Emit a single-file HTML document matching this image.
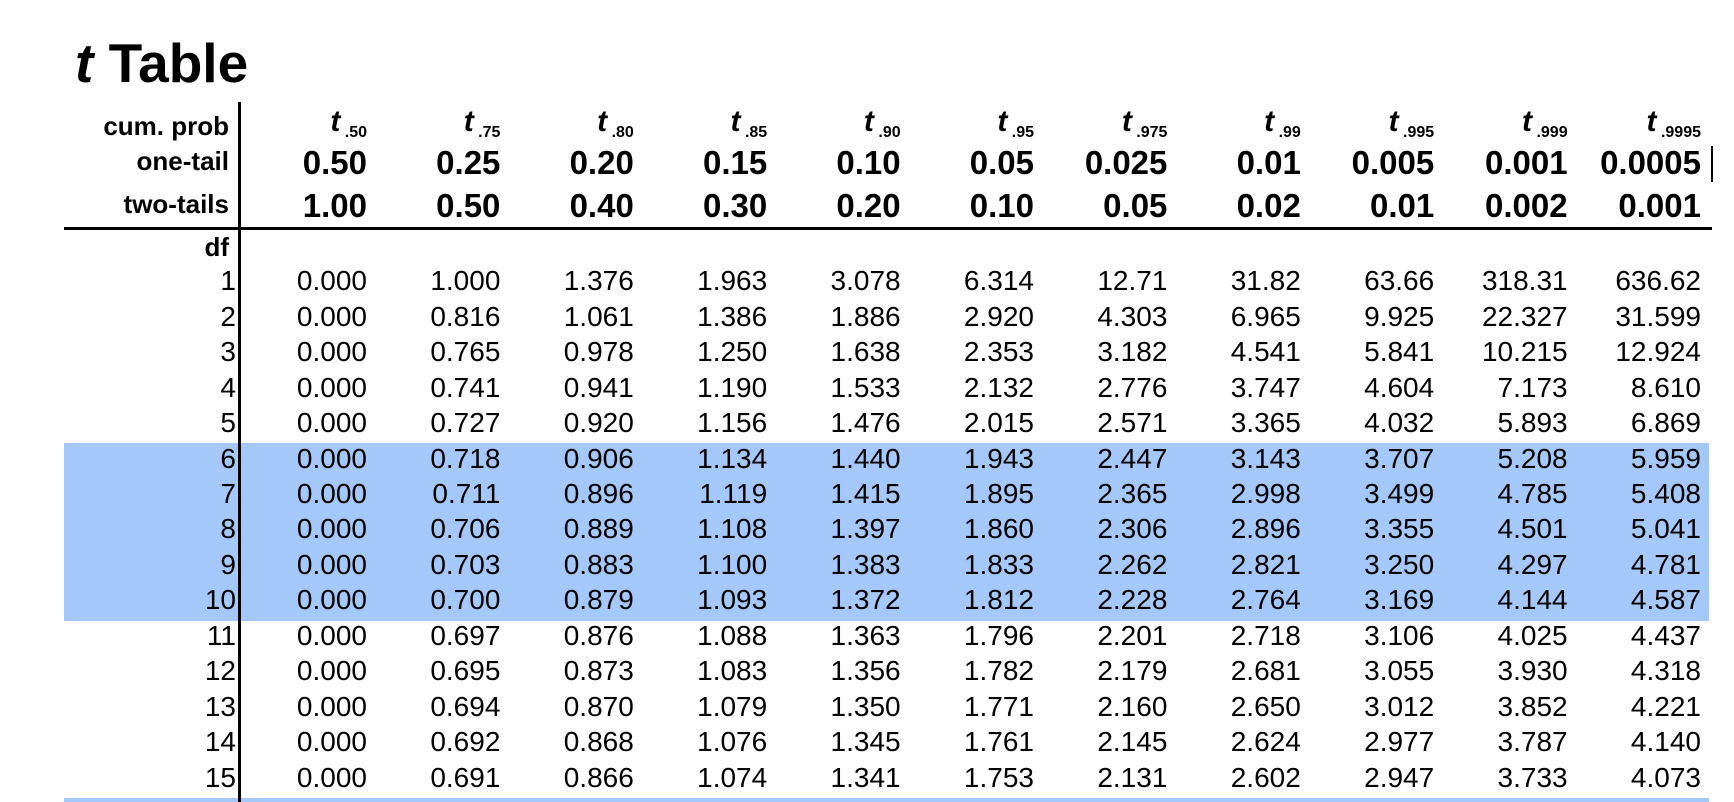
<!DOCTYPE html>
<html><head><meta charset="utf-8"><style>
html,body{margin:0;padding:0;background:#fff;}
#wrap{position:relative;width:1734px;height:802px;overflow:hidden;font-family:"Liberation Sans",Arial,sans-serif;color:#000;}
.t{position:absolute;white-space:nowrap;line-height:1;}
.band{position:absolute;background:#a4c8fa;}
</style></head><body>
<div id="wrap">
<div class="t" style="left:75px;top:36px;font-size:55px;font-weight:bold;"><i>t</i> Table</div>
<div class="band" style="left:64px;top:443px;width:1645px;height:178px;"></div>
<div class="band" style="left:64px;top:798px;width:1645px;height:4px;"></div>
<div style="position:absolute;left:238px;top:102px;width:3px;height:700px;background:#000;"></div>
<div style="position:absolute;left:64px;top:227px;width:1648px;height:3px;background:#000;"></div>
<div style="position:absolute;left:1711px;top:146px;width:2px;height:36px;background:#000;"></div>
</div>
<script>
const cumProb=[".50",".75",".80",".85",".90",".95",".975",".99",".995",".999",".9995"];
const oneTail=["0.50","0.25","0.20","0.15","0.10","0.05","0.025","0.01","0.005","0.001","0.0005"];
const twoTails=["1.00","0.50","0.40","0.30","0.20","0.10","0.05","0.02","0.01","0.002","0.001"];
const dfs=[1,2,3,4,5,6,7,8,9,10,11,12,13,14,15];
const rows=[
["0.000","1.000","1.376","1.963","3.078","6.314","12.71","31.82","63.66","318.31","636.62"],
["0.000","0.816","1.061","1.386","1.886","2.920","4.303","6.965","9.925","22.327","31.599"],
["0.000","0.765","0.978","1.250","1.638","2.353","3.182","4.541","5.841","10.215","12.924"],
["0.000","0.741","0.941","1.190","1.533","2.132","2.776","3.747","4.604","7.173","8.610"],
["0.000","0.727","0.920","1.156","1.476","2.015","2.571","3.365","4.032","5.893","6.869"],
["0.000","0.718","0.906","1.134","1.440","1.943","2.447","3.143","3.707","5.208","5.959"],
["0.000","0.711","0.896","1.119","1.415","1.895","2.365","2.998","3.499","4.785","5.408"],
["0.000","0.706","0.889","1.108","1.397","1.860","2.306","2.896","3.355","4.501","5.041"],
["0.000","0.703","0.883","1.100","1.383","1.833","2.262","2.821","3.250","4.297","4.781"],
["0.000","0.700","0.879","1.093","1.372","1.812","2.228","2.764","3.169","4.144","4.587"],
["0.000","0.697","0.876","1.088","1.363","1.796","2.201","2.718","3.106","4.025","4.437"],
["0.000","0.695","0.873","1.083","1.356","1.782","2.179","2.681","3.055","3.930","4.318"],
["0.000","0.694","0.870","1.079","1.350","1.771","2.160","2.650","3.012","3.852","4.221"],
["0.000","0.692","0.868","1.076","1.345","1.761","2.145","2.624","2.977","3.787","4.140"],
["0.000","0.691","0.866","1.074","1.341","1.753","2.131","2.602","2.947","3.733","4.073"]];
const headLabels=["cum. prob","one-tail","two-tails","df"];
const W=document.getElementById('wrap');
function colRight(i){return 367+i*133.4;}
function rowCenter(r){return 283+r*35.45;}
function put(txt,right,cy,size,bold,name){
  const d=document.createElement('div');
  d.className='t';
  
  
  d.style.right=(1734-right)+'px';
  d.style.top=(cy-size*0.56)+'px';
  d.style.fontSize=size+'px';
  if(bold)d.style.fontWeight='bold';
  d.innerHTML=txt;
  W.appendChild(d);return d;
}
const headY=[128,163,206,249];
headLabels.forEach((l,i)=>{put(l,229,headY[i],26,true,'header-label');});
cumProb.forEach((c,i)=>{put('<i style="font-size:30px">t</i><span style="font-size:16px;position:relative;top:6px"> '+c+'</span>',colRight(i),124,30,true,'cum-prob-header');});
oneTail.forEach((c,i)=>{put(c,colRight(i),164,33,true,'one-tail-header');});
twoTails.forEach((c,i)=>{put(c,colRight(i),207,33,true,'two-tails-header');});
dfs.forEach((df,r)=>{
  put(String(df),236,rowCenter(r),28,false,'df-label');
  rows[r].forEach((v,i)=>{put(v,colRight(i),rowCenter(r),28,false,'t-value-cell');});
});
</script>
</body></html>
